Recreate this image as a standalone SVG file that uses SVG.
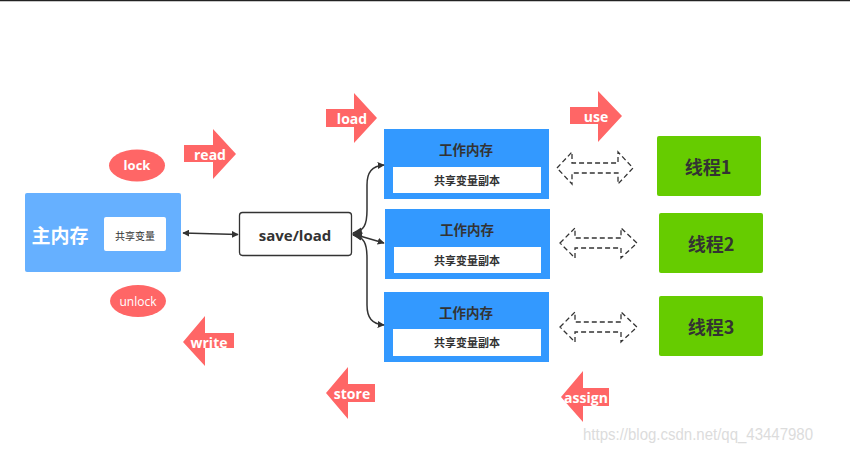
<svg xmlns="http://www.w3.org/2000/svg" width="850" height="453" viewBox="0 0 850 453">
<defs>
<style>
.lat{font-family:"Open Sans","Noto Sans","Noto Sans CJK SC",sans-serif}
.cjk{font-family:"Noto Sans CJK SC","Noto Sans",sans-serif}
.op{fill:#ff6666}
.opt{fill:#fff;font-weight:bold;font-size:14px;text-anchor:middle;dominant-baseline:central}
.work{fill:#3399ff}
.inner{fill:#fff}
.wt{fill:#333;font-weight:bold;font-size:13.5px;text-anchor:middle;dominant-baseline:central}
.ws{fill:#333;font-weight:bold;font-size:11px;text-anchor:middle;dominant-baseline:central}
.thr{fill:#66cc00}
.tt{fill:#333;font-weight:bold;font-size:18px;text-anchor:middle;dominant-baseline:central}
.conn{fill:none;stroke:#333;stroke-width:1.5}
.dash{fill:none;stroke:#333;stroke-width:1.3;stroke-dasharray:5 3}
</style>
<marker id="ah" viewBox="0 0 10 10" refX="9" refY="5" markerWidth="7" markerHeight="7" orient="auto-start-reverse" markerUnits="userSpaceOnUse">
<path d="M0,0 L10,5 L0,10 z" fill="#333"/>
</marker>
<marker id="ah2" viewBox="0 0 10 10" refX="9" refY="5" markerWidth="10" markerHeight="10" orient="auto-start-reverse" markerUnits="userSpaceOnUse">
<path d="M0,1 L10,5 L0,9 z" fill="#333"/>
</marker>
</defs>
<rect width="850" height="453" fill="#fff"/>
<line x1="0" y1="0.5" x2="850" y2="0.5" stroke="#222" stroke-width="1.5"/>

<g id="main-memory">
<rect x="25" y="193" width="156" height="79" rx="2" fill="#66b0ff"/>
<text x="60" y="234" class="cjk" fill="#fff" font-weight="bold" font-size="19" text-anchor="middle" dominant-baseline="central">主内存</text>
<rect x="104" y="217" width="62" height="34" rx="2" fill="#fff"/>
<text x="135" y="235" class="cjk" fill="#333" font-size="10" text-anchor="middle" dominant-baseline="central">共享变量</text>
</g>

<g id="lock">
<ellipse cx="137" cy="165.5" rx="28" ry="16" class="op"/>
<text x="137" y="165" class="lat" fill="#fff" font-size="13" font-weight="bold" text-anchor="middle" dominant-baseline="central">lock</text>
</g>
<g id="unlock">
<ellipse cx="138" cy="301" rx="28" ry="16" class="op"/>
<text x="138" y="301" class="lat" fill="#fff" font-size="12" text-anchor="middle" dominant-baseline="central">unlock</text>
</g>

<g id="read">
<path d="M184,145 L213,145 L213,129 L236,154 L213,179 L213,162 L184,162 z" class="op"/>
<text x="210" y="154" class="lat opt">read</text>
</g>
<g id="load">
<path d="M326,109 L354,109 L354,93 L377,118 L354,143 L354,127 L326,127 z" class="op"/>
<text x="352" y="118" class="lat opt">load</text>
</g>
<g id="use">
<path d="M570,107 L598,107 L598,91 L622,116 L598,142 L598,124 L570,124 z" class="op"/>
<text x="596" y="116" class="lat opt" font-size="13">use</text>
</g>
<g id="write">
<path d="M183,342 L205,316 L205,333 L234,333 L234,348 L205,348 L205,366 z" class="op"/>
<text x="209" y="342" class="lat opt">write</text>
</g>
<g id="store">
<path d="M326,393 L348,367 L348,384 L375,384 L375,402 L348,402 L348,419 z" class="op"/>
<text x="352" y="393" class="lat opt" font-size="13">store</text>
</g>
<g id="assign">
<path d="M561,397 L583,371 L583,388 L609,388 L609,406 L583,406 L583,422 z" class="op"/>
<text x="586" y="397" class="lat opt" font-size="13">assign</text>
</g>

<g id="save-load">
<rect x="239.5" y="212.5" width="112" height="43" rx="3" fill="#fff" stroke="#333" stroke-width="1.3"/>
<text x="295" y="235" class="lat" fill="#333" font-weight="bold" font-size="15" text-anchor="middle" dominant-baseline="central">save/load</text>
</g>

<g id="work1">
<rect x="384" y="129" width="165" height="70" class="work"/>
<text x="466" y="149" class="cjk wt">工作内存</text>
<rect x="393" y="167" width="148" height="26" class="inner"/>
<text x="467" y="180" class="cjk ws">共享变量副本</text>
</g>
<g id="work2">
<rect x="385" y="209" width="165" height="70" class="work"/>
<text x="467" y="229" class="cjk wt">工作内存</text>
<rect x="394" y="247" width="147" height="26" class="inner"/>
<text x="467" y="260" class="cjk ws">共享变量副本</text>
</g>
<g id="work3">
<rect x="384" y="292" width="165" height="70" class="work"/>
<text x="466" y="312" class="cjk wt">工作内存</text>
<rect x="393" y="329" width="148" height="27" class="inner"/>
<text x="467" y="342" class="cjk ws">共享变量副本</text>
</g>

<g id="thread1">
<rect x="657" y="136" width="104" height="60" rx="2" class="thr"/>
<text x="708" y="166" class="cjk tt">线程1</text>
</g>
<g id="thread2">
<rect x="659" y="213" width="104" height="60" rx="2" class="thr"/>
<text x="711" y="243" class="cjk tt">线程2</text>
</g>
<g id="thread3">
<rect x="659" y="296" width="104" height="60" rx="2" class="thr"/>
<text x="711" y="326" class="cjk tt">线程3</text>
</g>

<g id="connectors">
<line x1="183" y1="233" x2="238" y2="234.5" class="conn" marker-start="url(#ah)" marker-end="url(#ah)"/>
<path d="M353,233 C364,231 367,225 367,210 L367,185 C367,172 372,166 384,165" class="conn" marker-start="url(#ah2)" marker-end="url(#ah)"/>
<path d="M353,234 L384,243" class="conn" marker-start="url(#ah2)" marker-end="url(#ah)"/>
<path d="M353,235 C364,237 367,243 367,258 L367,305 C367,318 372,324 384,325" class="conn" marker-start="url(#ah2)" marker-end="url(#ah)"/>
<path d="M557,168 L572,152 L572,163 L618,163 L618,152 L633,168 L618,184 L618,173 L572,173 L572,184 z" class="dash"/>
<path d="M560,243 L575,228 L575,238 L621,238 L621,228 L637,243 L621,258 L621,248 L575,248 L575,258 z" class="dash"/>
<path d="M560,327 L575,312 L575,322 L621,322 L621,312 L637,327 L621,342 L621,332 L575,332 L575,342 z" class="dash"/>
</g>

<text x="583" y="440" font-family="Liberation Sans, Arial, sans-serif" fill="#dcdcdc" font-size="16" textLength="230" lengthAdjust="spacingAndGlyphs">https://blog.csdn.net/qq_43447980</text>
</svg>
